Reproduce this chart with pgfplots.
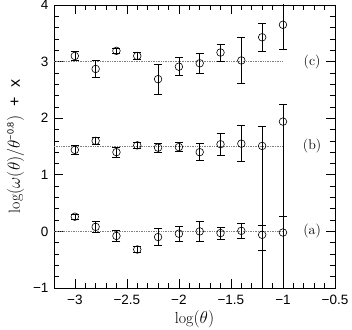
\documentclass[border=0pt]{standalone}
\usepackage{fontspec}
\usepackage{pgfplots}
\usepackage{pgfplotstable}
\pgfplotsset{compat=1.18}
\newfontfamily\tickfont{Liberation Sans}

% x  y  err+  err-
\pgfplotstableread{
x     y      ep     em
-3.0  0.26   0.04   0.04
-2.8  0.08   0.10   0.10
-2.6  -0.08  0.10   0.10
-2.4  -0.32  0.05   0.05
-2.2  -0.10  0.15   0.15
-2.0  -0.04  0.13   0.13
-1.8  0.00   0.18   0.18
-1.6  -0.03  0.11   0.11
-1.4  0.01   0.13   0.13
-1.2  -0.06  0.16   0.27
-1.0  -0.02  0.29   5.00
}\seriesa
\pgfplotstableread{
x     y      ep     em
-3.0  1.44   0.08   0.08
-2.8  1.60   0.06   0.06
-2.6  1.40   0.09   0.09
-2.4  1.52   0.06   0.06
-2.2  1.48   0.08   0.08
-2.0  1.49   0.08   0.08
-1.8  1.40   0.15   0.15
-1.6  1.54   0.19   0.19
-1.4  1.55   0.32   0.32
-1.2  1.51   0.35   5.00
-1.0  1.94   0.30   5.00
}\seriesb
\pgfplotstableread{
x     y      ep     em
-3.0  3.10   0.08   0.08
-2.8  2.87   0.15   0.15
-2.6  3.19   0.05   0.05
-2.4  3.10   0.06   0.06
-2.2  2.69   0.27   0.27
-2.0  2.91   0.16   0.16
-1.8  2.97   0.18   0.18
-1.6  3.16   0.15   0.15
-1.4  3.02   0.41   0.41
-1.2  3.43   0.25   0.25
-1.0  3.65   0.43   0.43
}\seriesc

\pgfplotsset{
  datapts/.style={black, only marks, mark=o, mark size=3.8pt, line width=0.6pt,
    error bars/.cd, y dir=both, y explicit,
    error mark options={rotate=90, mark size=4pt, line width=0.6pt},
    error bar style={line width=0.6pt}},
  refline/.style={gray, densely dotted, line width=0.7pt, forget plot},
}

\begin{document}
\begin{tikzpicture}
\begin{axis}[
  name=main,
  scale only axis,
  width=281pt, height=283pt,
  xmin=-3.2, xmax=-0.5,
  ymin=-1, ymax=4,
  xtick={-3,-2.5,-2,-1.5,-1,-0.5},
  xticklabels={−3,−2.5,−2,−1.5,−1,−0.5},
  ytick={-1,0,1,2,3,4},
  yticklabels={−1,0,1,2,3,4},
  minor x tick num=4,
  minor y tick num=4,
  tick align=inside,
  major tick length=9pt,
  minor tick length=5pt,
  tick style={black, line width=0.6pt},
  every tick label/.append style={font=\tickfont\fontsize{13.5}{15}\selectfont},
  xticklabel style={yshift=-4pt},
  yticklabel style={xshift=-2pt},
  label style={font=\fontsize{16}{18}\selectfont},
  xlabel={$\log(\theta)$},
  xlabel style={yshift=1pt},
  ylabel={$\log(\omega(\theta)/\theta^{\mbox{\tickfont\fontsize{9}{9}\selectfont −0.8}})$\ \ {\tickfont +\ \ x}},
  ylabel style={yshift=2pt},
  axis line style={line width=0.6pt},
  clip=true,
]
\addplot[refline] coordinates {(-3.2,0) (-1.0,0)};
\addplot[refline] coordinates {(-3.2,1.5) (-1.0,1.5)};
\addplot[refline] coordinates {(-3.2,3) (-1.0,3)};
\addplot[datapts] table[x=x, y=y, y error plus=ep, y error minus=em] {\seriesa};
\addplot[datapts] table[x=x, y=y, y error plus=ep, y error minus=em] {\seriesb};
\addplot[datapts] table[x=x, y=y, y error plus=ep, y error minus=em] {\seriesc};
\node[font=\fontsize{14}{16}\selectfont] at (axis cs:-0.72,3) {(c)};
\node[font=\fontsize{14}{16}\selectfont] at (axis cs:-0.72,1.5) {(b)};
\node[font=\fontsize{14}{16}\selectfont] at (axis cs:-0.72,0) {(a)};
\end{axis}
\pgfresetboundingbox
\path ([xshift=-54pt, yshift=-42pt]main.south west) rectangle ([xshift=17pt, yshift=5pt]main.north east);
\end{tikzpicture}
\end{document}
